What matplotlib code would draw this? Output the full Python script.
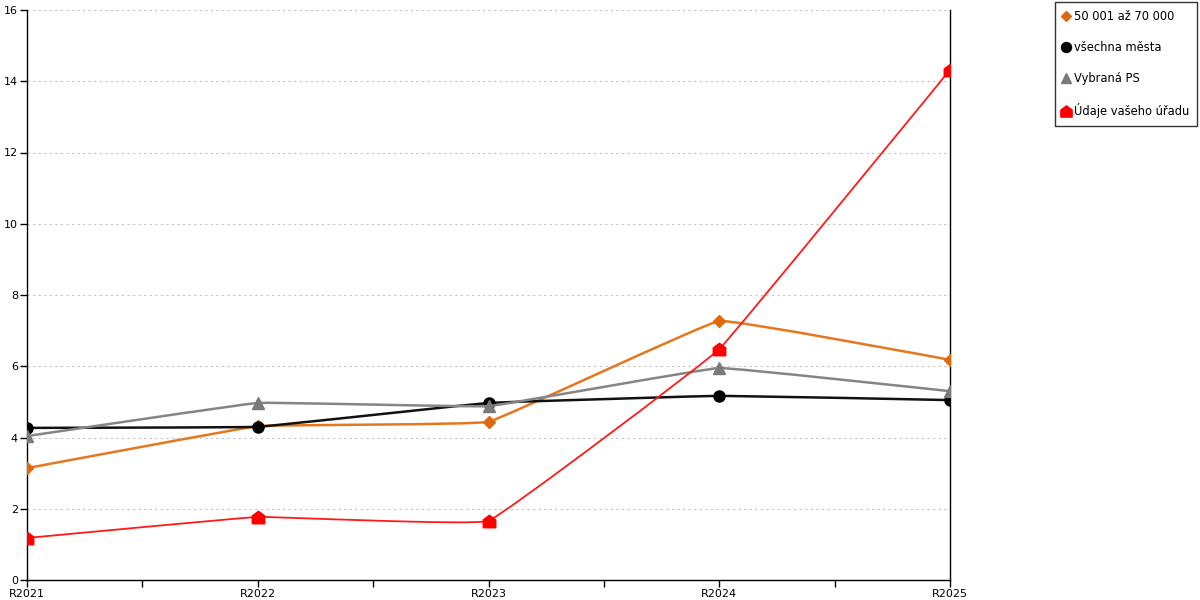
import numpy as np
import matplotlib
matplotlib.use('Agg')
import matplotlib.pyplot as plt
from matplotlib.path import Path
from matplotlib.patches import PathPatch

years = ['R2021', 'R2022', 'R2023', 'R2024', 'R2025']
orange_vals = [3.14, 4.32, 4.44, 7.27, 6.18]
black_vals = [4.27, 4.30, 4.97, 5.17, 5.05]
gray_vals = [4.04, 4.97, 4.88, 5.95, 5.30]
red_vals = [1.18, 1.77, 1.66, 6.48, 14.32]
labels = ['50 001 až 70 000', 'všechna města', 'Vybraná PS', 'Údaje vašeho úřadu']

house = [(-1, -1), (1, -1), (1, 0.25), (0, 1), (-1, 0.25), (-1, -1)]


def smooth_path(xs, ys, k=0.03):
    # cardinal spline drawn as cubic bezier segments (slight rounding like the original)
    pts = np.column_stack([xs, ys]).astype(float)
    n = len(pts)
    verts = [pts[0]]
    codes = [Path.MOVETO]
    for i in range(n - 1):
        p0 = pts[max(i - 1, 0)]
        p1 = pts[i]
        p2 = pts[i + 1]
        p3 = pts[min(i + 2, n - 1)]
        c1 = p1 + (p2 - p0) * k
        c2 = p2 - (p3 - p1) * k
        verts += [c1, c2, p2]
        codes += [Path.CURVE4] * 3
    return Path(verts, codes)


plt.rcParams['font.family'] = ['DejaVu Sans']
fig = plt.figure(figsize=(12, 6), dpi=100)
ax = fig.add_axes([27/1200, 20/600, (950-27)/1200, 570/600])

x = np.arange(len(years))
series = [
    (orange_vals, '#E5781E', 1.8, 'D', 6, '#DD6A0E'),
    (black_vals, '#111111', 1.8, 'o', 8, 'black'),
    (gray_vals, '#858585', 1.8, '^', 8, '#7a7a7a'),
    (red_vals, '#FF1A1A', 1.3, house, 9, 'red'),
]
for i, (vals, lc, lw, mk, ms, mc) in enumerate(series):
    ax.add_patch(PathPatch(smooth_path(x, vals), fc='none', ec=lc, lw=lw,
                           zorder=3 + i * 0.1))
    ax.plot(x, vals, ls='none', marker=mk, ms=ms, mfc=mc, mec=mc,
            label=labels[i], zorder=3.05 + i * 0.1)

ax.set_xlim(0, len(years) - 1)
ax.set_ylim(0, 16)
ax.set_yticks(np.arange(0, 17, 2))
ax.set_xticks(x)
ax.set_xticklabels(years)
ax.set_xticks(x[:-1] + 0.5, minor=True)
ax.tick_params(axis='both', which='both', direction='out', length=5, width=1,
               labelsize=8, pad=1.5)
ax.grid(axis='y', color='#c4c4c4', ls=(0, (2, 3)), lw=0.8)
ax.set_axisbelow(True)
ax.spines['top'].set_visible(False)
for s in ['left', 'right', 'bottom']:
    ax.spines[s].set_color('black')
    ax.spines[s].set_linewidth(1)

handles, labs = ax.get_legend_handles_labels()
leg = fig.legend(handles, labs, loc='upper right', bbox_to_anchor=(1197/1200, 1 - 2/600),
                 fontsize=8.3, frameon=True, fancybox=False, edgecolor='black',
                 handlelength=0.6, handletextpad=0.35, labelspacing=1.55,
                 borderpad=0.7, borderaxespad=0, markerscale=0.9)
leg.get_frame().set_linewidth(1)

fig.savefig('out.png', dpi=100)
